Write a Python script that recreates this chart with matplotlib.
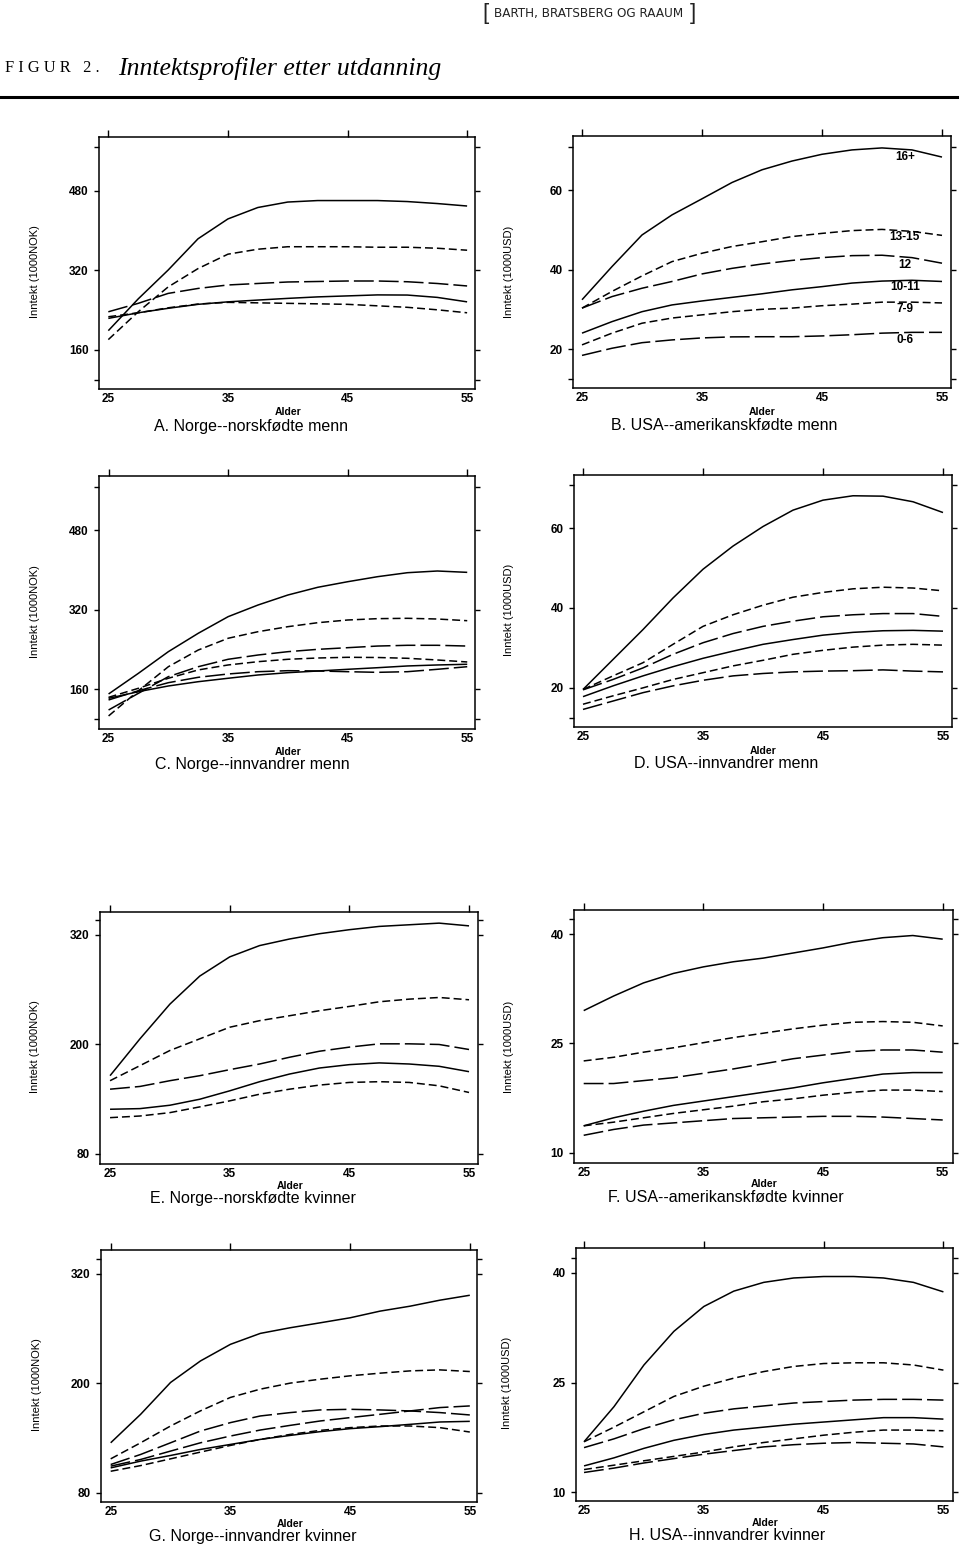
import matplotlib
matplotlib.use("Agg")
import matplotlib.pyplot as plt
from matplotlib.lines import Line2D

plt.rcParams['font.family'] = ['Liberation Sans', 'DejaVu Sans']

# ---------------- data ----------------
AGES = [25, 27.5, 30, 32.5, 35, 37.5, 40, 42.5, 45, 47.5, 50, 52.5, 55]
XTICKS = [25, 35, 45, 55]

# A. Norge--norskfødte menn (1000 NOK)
A1 = [198, 262, 320, 383, 423, 446, 457, 460, 460, 460, 458, 454, 449]
A2 = [180, 236, 286, 323, 352, 362, 367, 367, 367, 366, 366, 364, 360]
A3 = [236, 253, 273, 283, 290, 293, 296, 297, 298, 298, 296.5, 293, 288]
A4 = [222.7, 234, 243, 251, 256, 259.6, 263, 266, 268, 270, 269.7, 265, 256]
A5 = [226, 234, 244, 251.6, 255, 254, 253, 252, 251, 248, 245, 240, 234]

# B. USA--amerikanskfødte menn (1000 USD)
B1 = [32.4, 40.75, 48.7, 53.75, 57.8, 61.9, 65.1, 67.3, 69, 70.1, 70.6, 70.1, 68.3]
B2 = [30.3, 34.5, 38.4, 42, 44.1, 45.8, 47, 48.3, 49.1, 49.8, 50.1, 49.6, 48.6]
B3 = [30.3, 33.2, 35.3, 37, 38.9, 40.3, 41.4, 42.3, 43, 43.5, 43.6, 43, 41.6]
B4 = [24, 26.9, 29.4, 31.1, 32.1, 33, 33.9, 34.9, 35.7, 36.6, 37.1, 37.3, 37]
B5 = [21.05, 24, 26.5, 27.8, 28.6, 29.4, 30, 30.3, 30.9, 31.3, 31.8, 31.8, 31.6]
B6 = [18.4, 20.2, 21.6, 22.3, 22.8, 23.06, 23.1, 23.1, 23.3, 23.6, 24, 24.2, 24.2]
B_LABELS = ['16+', '13-15', '12', '10-11', '7-9', '0-6']
B_LABEL_Y = [68.3, 48.1, 41.2, 35.7, 30.0, 22.3]

# C. Norge--innvandrer menn
C1 = [150.7, 192.3, 235.7, 272.6, 306, 329.4, 349.5, 365, 376.2, 386.3, 394.3, 397.7, 395]
C2 = [106.6, 157.3, 205.5, 239, 262.6, 275.8, 285.9, 293.9, 299.3, 302, 302.7, 301.3, 297.9]
C3 = [118.6, 152.1, 185.5, 205.5, 220.4, 229, 235.7, 240.4, 243.7, 247, 248.5, 248.5, 247]
C4 = [144, 162.2, 182.3, 199, 209, 215.6, 220.4, 223, 224.4, 224, 222.4, 219, 215]
C5 = [142, 155.4, 166.8, 175.4, 182.3, 188.9, 193.5, 196.9, 200.3, 203.5, 207, 209, 210.4]
C6 = [138.7, 157.3, 173.4, 184.2, 190.9, 195.5, 197.5, 196.9, 195.5, 194.2, 195.5, 200.3, 205.5]

# D. USA--innvandrer menn
D1 = [19.6, 27.1, 34.6, 42.5, 49.7, 55.5, 60.4, 64.5, 67, 68.1, 68, 66.6, 63.9]
D2 = [19.6, 23, 26.3, 30.9, 35.4, 38.3, 40.7, 42.7, 43.9, 44.8, 45.2, 45, 44.3]
D3 = [19.5, 22.1, 25, 28.4, 31.3, 33.6, 35.4, 36.7, 37.8, 38.3, 38.6, 38.6, 37.9]
D4 = [17.8, 20.5, 23, 25.3, 27.4, 29.2, 30.9, 32.1, 33.2, 33.9, 34.3, 34.4, 34.2]
D5 = [15.9, 18, 20, 22.1, 23.8, 25.5, 26.9, 28.4, 29.4, 30.2, 30.7, 30.9, 30.7]
D6 = [14.6, 16.7, 18.8, 20.5, 21.9, 23, 23.6, 24, 24.2, 24.3, 24.5, 24.2, 24]

# E. Norge--norskfødte kvinner
E1 = [165.8, 206.2, 244.2, 275, 296, 308.4, 315.6, 321.4, 325.8, 329.4, 331.2, 333, 330]
E2 = [160.3, 176.8, 193.4, 206.2, 218.9, 226.1, 231.5, 237, 241.7, 246.8, 249.7, 251.5, 249]
E3 = [151, 154, 160.3, 165.8, 172.4, 178.6, 186, 192.6, 197.1, 200.7, 200.7, 200, 194.5]
E4 = [129, 129.7, 133.4, 140, 149.2, 159.2, 167.6, 174.2, 177.9, 179.8, 178.6, 176.1, 170.2]
E5 = [119.8, 121.6, 125.3, 131.6, 138.2, 145.5, 151, 155.5, 158.4, 159.2, 158.4, 154.7, 147.4]

# F. USA--amerikanskfødte kvinner
F1 = [29.5, 31.5, 33.3, 34.6, 35.5, 36.2, 36.7, 37.4, 38.1, 38.9, 39.5, 39.8, 39.3]
F2 = [22.6, 23.1, 23.8, 24.4, 25.1, 25.8, 26.4, 27, 27.5, 27.9, 28, 27.9, 27.4]
F3 = [19.5, 19.5, 19.9, 20.3, 20.9, 21.5, 22.2, 22.9, 23.4, 23.9, 24.1, 24.1, 23.8]
F4 = [13.7, 14.8, 15.7, 16.5, 17.1, 17.7, 18.3, 18.9, 19.6, 20.2, 20.8, 21, 21]
F5 = [13.7, 14.2, 14.8, 15.4, 15.9, 16.4, 17, 17.4, 17.9, 18.3, 18.6, 18.6, 18.4]
F6 = [12.4, 13.2, 13.8, 14.1, 14.4, 14.7, 14.8, 14.9, 15, 15, 14.9, 14.7, 14.5]

# G. Norge--innvandrer kvinner
G1 = [135, 166.2, 201.1, 224.7, 242.9, 254.9, 261.1, 266.5, 272, 279.3, 284.7, 291.3, 296.7]
G2 = [117.4, 135, 153.4, 170, 184.7, 193.8, 200.4, 204.7, 208.4, 211.3, 213.8, 214.9, 213.1]
G3 = [111.2, 122.2, 135, 147.9, 157.1, 164.4, 168.1, 171, 171.7, 171, 169.9, 168.1, 165.5]
G4 = [109.4, 116.7, 125.9, 135, 142.4, 149, 154.1, 158.9, 162.6, 166.2, 169.9, 173.6, 175.4]
G5 = [107.5, 114.9, 121.1, 127.7, 133.2, 138.7, 143.1, 147.2, 150.5, 152.7, 155.2, 157.8, 158.5]
G6 = [103.8, 110, 117.4, 124.8, 132.1, 138.7, 144.2, 148.6, 151.6, 153.4, 153.4, 151.6, 146.8]

# H. USA--innvandrer kvinner
H1 = [16.9, 21.7, 27.4, 32, 35.4, 37.5, 38.7, 39.3, 39.5, 39.5, 39.3, 38.7, 37.4]
H2 = [16.9, 18.9, 21, 23.1, 24.5, 25.6, 26.5, 27.2, 27.6, 27.7, 27.7, 27.4, 26.7]
H3 = [16.1, 17.3, 18.7, 19.9, 20.8, 21.4, 21.8, 22.2, 22.4, 22.6, 22.7, 22.7, 22.6]
H4 = [13.6, 14.7, 16, 17.1, 17.9, 18.5, 18.9, 19.3, 19.6, 19.9, 20.2, 20.2, 20]
H5 = [13.1, 13.7, 14.3, 14.9, 15.5, 16.2, 16.8, 17.3, 17.8, 18.2, 18.5, 18.5, 18.4]
H6 = [12.7, 13.3, 14, 14.6, 15.2, 15.7, 16.2, 16.5, 16.7, 16.8, 16.7, 16.6, 16.2]

NOK_MEN_TICKS = [160, 320, 480]
USD_MEN_TICKS = [20, 40, 60]
NOK_WOMEN_TICKS = [80, 200, 320]
USD_WOMEN_TICKS = [10, 25, 40]

TITLES = ['A. Norge--norskfødte menn', 'B. USA--amerikanskfødte menn',
          'C. Norge--innvandrer menn', 'D. USA--innvandrer menn',
          'E. Norge--norskfødte kvinner', 'F. USA--amerikanskfødte kvinner',
          'G. Norge--innvandrer kvinner', 'H. USA--innvandrer kvinner']
YLAB_NOK = 'Inntekt (1000NOK)'
YLAB_USD = 'Inntekt (1000USD)'
XLAB = 'Alder'

# ---------------- figure ----------------
W, H = 960, 1550
fig = plt.figure(figsize=(9.6, 15.5), dpi=100)


def fx(px):
    return px / W


def fy(py):
    return 1 - py / H


SOLID = '-'
SHORT = (0, (5.2, 2.6))
LONG = (0, (13, 3.3))
LW = 1.1


def make_panel(box, xlim, ylim, major, minor, series, styles):
    x0, y0, x1, y1 = box
    ax = fig.add_axes([fx(x0), fy(y1), (x1 - x0) / W, (y1 - y0) / H])
    for s, st in zip(series, styles):
        ax.plot(AGES, s, color='black', lw=LW, linestyle=st,
                solid_capstyle='butt', dash_capstyle='butt')
    ax.set_xlim(*xlim)
    ax.set_ylim(*ylim)
    ax.set_xticks(XTICKS)
    ax.set_xticklabels([str(v) for v in XTICKS])
    ax.set_yticks(major)
    ax.set_yticklabels([str(v) for v in major])
    ax.set_yticks(minor, minor=True)
    ax.tick_params(axis='x', which='major', top=True, bottom=False,
                   labeltop=False, labelbottom=True, direction='out',
                   length=5, width=1, pad=-2, labelsize=8.5)
    ax.tick_params(axis='x', which='minor', top=False, bottom=False)
    ax.tick_params(axis='y', which='both', left=True, right=True,
                   direction='out', length=3.5, width=1, pad=4, labelsize=8.5)
    for sp in ax.spines.values():
        sp.set_linewidth(1.1)
    for lab in ax.get_xticklabels() + ax.get_yticklabels():
        lab.set_fontweight('bold')
    return ax


S5 = [SOLID, SHORT, LONG, SOLID, SHORT]
S6 = [SOLID, SHORT, LONG, SOLID, SHORT, LONG]
SC = [SOLID, SHORT, LONG, SHORT, SOLID, LONG]
SG = [SOLID, SHORT, LONG, LONG, SOLID, SHORT]

axA = make_panel((99, 137, 475, 389), (24.22, 55.66), (80.5, 588),
                 NOK_MEN_TICKS, [98, 568], [A1, A2, A3, A4, A5], S5)
axB = make_panel((573, 136, 951, 388), (24.25, 55.75), (10.2, 73.6),
                 USD_MEN_TICKS, [12.5, 70.8], [B1, B2, B3, B4, B5, B6], S6)
for lab, yv in zip(B_LABELS, B_LABEL_Y):
    axB.text(51.9, yv, lab, ha='center', va='center', fontsize=8.5,
             fontweight='bold')
axC = make_panel((99, 476, 475, 729), (24.2, 55.65), (80.4, 588.5),
                 NOK_MEN_TICKS, [100.5, 566], [C1, C2, C3, C4, C5, C6], SC)
axD = make_panel((574, 475, 952, 727), (24.25, 55.75), (10.2, 73.3),
                 USD_MEN_TICKS, [12.4, 70.8], [D1, D2, D3, D4, D5, D6], S6)
axE = make_panel((100, 912, 478, 1164), (24.16, 55.75), (69, 345.2),
                 NOK_WOMEN_TICKS, [336.4], [E1, E2, E3, E4, E5], S5)
axF = make_panel((574, 910, 953, 1163), (24.19, 55.86), (8.6, 43.3),
                 USD_WOMEN_TICKS, [42.05], [F1, F2, F3, F4, F5, F6], S6)
axG = make_panel((101, 1250, 477, 1502), (24.19, 55.6), (70.1, 346.3),
                 NOK_WOMEN_TICKS, [336.4], [G1, G2, G3, G4, G5, G6], SG)
axH = make_panel((576, 1248, 953, 1501), (24.33, 55.8), (8.8, 43.4),
                 USD_WOMEN_TICKS, [42.05], [H1, H2, H3, H4, H5, H6], S6)

# axis titles and panel captions (pixel positions)
ylab_pos = [(35, 272, YLAB_NOK), (509, 272, YLAB_USD), (35, 612, YLAB_NOK),
            (509, 610, YLAB_USD), (35, 1047, YLAB_NOK), (509, 1047, YLAB_USD),
            (37, 1385, YLAB_NOK), (507, 1383, YLAB_USD)]
for x, y, t in ylab_pos:
    fig.text(fx(x), fy(y), t, rotation=90, ha='center', va='center',
             fontsize=8)

alder_pos = [(288, 412), (762, 412), (288, 752), (763, 751),
             (290, 1186), (764, 1184), (290, 1524), (765, 1523)]
for x, y in alder_pos:
    fig.text(fx(x), fy(y), XLAB, ha='center', va='center', fontsize=7.5,
             fontweight='bold')

title_pos = [(251, 426), (724, 425), (252, 765), (726, 764),
             (253, 1199), (726, 1198), (253, 1537), (727, 1536)]
for (x, y), t in zip(title_pos, TITLES):
    fig.text(fx(x), fy(y), t, ha='center', va='center', fontsize=11.5)

# header
fig.text(fx(486), fy(14), '[', ha='center', va='center', fontsize=16,
         fontweight='light', color='#222222')
fig.text(fx(693), fy(14), ']', ha='center', va='center', fontsize=16,
         fontweight='light', color='#222222')
fig.text(fx(589), fy(14), 'BARTH, BRATSBERG OG RAAUM', ha='center',
         va='center', fontsize=9.6, fontstretch='condensed',
         family=['DejaVu Sans'], color='#222222')
fig.text(fx(5), fy(68), 'F I G U R   2 .', ha='left', va='center',
         fontsize=11.8, family=['Liberation Serif', 'DejaVu Serif'])
fig.text(fx(118), fy(68), 'Inntektsprofiler etter utdanning', ha='left',
         va='center', fontsize=18.5, style='italic',
         family=['Liberation Serif', 'DejaVu Serif'])
fig.add_artist(Line2D([0, fx(957)], [fy(97), fy(97)], color='black',
                      lw=2.2, transform=fig.transFigure))

fig.savefig('out.png', dpi=100)
